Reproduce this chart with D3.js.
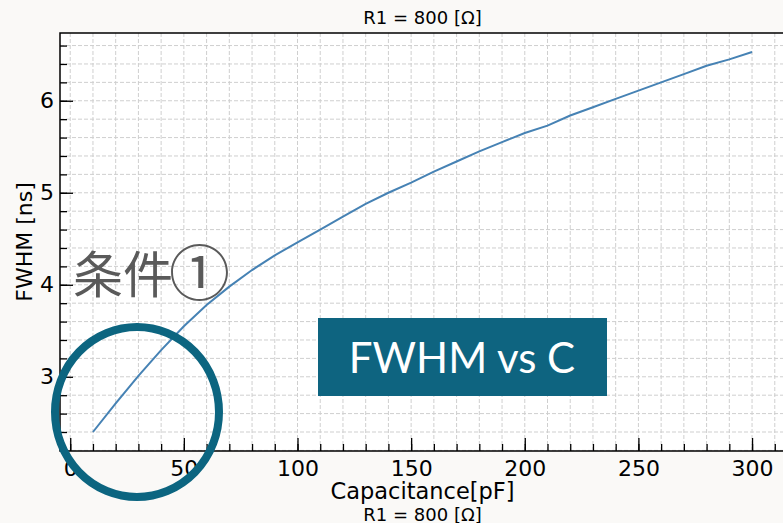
<!DOCTYPE html>
<html>
<head>
<meta charset="utf-8">
<script src="https://cdn.jsdelivr.net/npm/d3@7"></script>
<style>
  html, body { margin: 0; padding: 0; background: #faf9f7; }
  svg { display: block; }
</style>
</head>
<body>
<svg id="chart" width="783" height="523"></svg>
<script>
// Capacitance sweep [pF] and measured pulse width FWHM [ns], R1 = 800 Ω
const capacitance = [10, 20, 30, 40, 50, 60, 70, 80, 90, 100,
                     110, 120, 130, 140, 150, 160, 170, 180, 190, 200,
                     210, 220, 230, 240, 250, 260, 270, 280, 290, 300];
const fwhm = [2.40, 2.71, 3.01, 3.29, 3.55, 3.78, 3.98, 4.16, 4.32, 4.46,
              4.60, 4.74, 4.88, 5.00, 5.11, 5.23, 5.34, 5.45, 5.55, 5.65,
              5.73, 5.84, 5.93, 6.02, 6.11, 6.20, 6.29, 6.38, 6.45, 6.53];
const xMajorTicks = [0, 50, 100, 150, 200, 250, 300];
const yMajorTicks = [3, 4, 5, 6];
const titleText = "R1 = 800 [Ω]";
const xLabel = "Capacitance[pF]";
const yLabel = "FWHM [ns]";
const noteWords = "条件";
const noteMark = "①";
const boxText = "FWHM vs C";

const svg = d3.select("#chart");
const plotL = 60, plotR = 785, plotT = 33, plotB = 451;

// matplotlib-style 5% margins around the data
const xPad = (d3.max(capacitance) - d3.min(capacitance)) * 0.05;
const yPad = (d3.max(fwhm) - d3.min(fwhm)) * 0.05;
const x = d3.scaleLinear()
  .domain([d3.min(capacitance) - xPad, d3.max(capacitance) + xPad])
  .range([plotL, plotR]);
const y = d3.scaleLinear()
  .domain([d3.min(fwhm) - yPad, d3.max(fwhm) + yPad])
  .range([plotB, plotT]);

const xMinor = d3.range(0, 311, 10);
const yMinor = d3.range(2.2, 6.61, 0.2).map(v => +v.toFixed(1));

// plot background
svg.append("rect")
  .attr("x", plotL).attr("y", plotT)
  .attr("width", plotR - plotL).attr("height", plotB - plotT)
  .attr("fill", "#ffffff");

// dashed grid on every minor tick
const grid = svg.append("g").attr("stroke", "#cfcfcf").attr("stroke-width", 1)
  .attr("stroke-dasharray", "4,2");
grid.selectAll(".gx").data(xMinor).join("line")
  .attr("x1", d => x(d)).attr("x2", d => x(d))
  .attr("y1", plotT).attr("y2", plotB);
grid.selectAll(".gy").data(yMinor).join("line")
  .attr("x1", plotL).attr("x2", plotR)
  .attr("y1", d => y(d)).attr("y2", d => y(d));

// data line
svg.append("path")
  .datum(capacitance.map((c, i) => [c, fwhm[i]]))
  .attr("fill", "none")
  .attr("stroke", "#4682b4")
  .attr("stroke-width", 2)
  .attr("d", d3.line().x(d => x(d[0])).y(d => y(d[1])));

// axes with inward ticks
const tickFont = "DejaVu Sans, sans-serif";
const xAxisMinor = d3.axisBottom(x).tickValues(xMinor).tickSize(-7).tickFormat("");
const xAxisMajor = d3.axisBottom(x).tickValues(xMajorTicks).tickSize(-13).tickPadding(9)
  .tickFormat(d3.format("d"));
const yAxisMinor = d3.axisLeft(y).tickValues(yMinor).tickSize(-7).tickFormat("");
const yAxisMajor = d3.axisLeft(y).tickValues(yMajorTicks).tickSize(-13).tickPadding(6)
  .tickFormat(d3.format("d"));

function styleAxis(g) {
  g.select(".domain").remove();
  g.selectAll("line").attr("stroke", "#000").attr("stroke-width", 1.3);
  g.selectAll("text").attr("fill", "#000").style("font-family", tickFont).style("font-size", "22px");
}
svg.append("g").attr("transform", `translate(0,${plotB})`).call(xAxisMinor).call(styleAxis);
svg.append("g").attr("transform", `translate(0,${plotB})`).call(xAxisMajor).call(styleAxis);
svg.append("g").attr("transform", `translate(${plotL},0)`).call(yAxisMinor).call(styleAxis);
svg.append("g").attr("transform", `translate(${plotL},0)`).call(yAxisMajor).call(styleAxis);

// spines: left, top, bottom
svg.append("path")
  .attr("d", `M${plotR},${plotT}H${plotL}V${plotB}H${plotR}`)
  .attr("fill", "none").attr("stroke", "#000").attr("stroke-width", 1.5);

// titles and axis labels
const cx = (plotL + plotR) / 2;
svg.append("text").attr("x", cx).attr("y", 24).attr("text-anchor", "middle")
  .style("font-family", tickFont).style("font-size", "18px").text(titleText);
svg.append("text").attr("x", cx).attr("y", 499).attr("text-anchor", "middle")
  .style("font-family", tickFont).style("font-size", "22.5px").text(xLabel);
svg.append("text").attr("x", cx).attr("y", 521).attr("text-anchor", "middle")
  .style("font-family", tickFont).style("font-size", "18px").text(titleText);
svg.append("text")
  .attr("transform", `translate(32,${(plotT + plotB) / 2}) rotate(-90)`)
  .attr("text-anchor", "middle")
  .style("font-family", tickFont).style("font-size", "22px").text(yLabel);

// annotation: condition label
const note = svg.append("text").attr("x", 73).attr("y", 293)
  .style("font-family", "Noto Sans CJK JP, sans-serif")
  .attr("fill", "#5a5a5a");
note.append("tspan").style("font-size", "50px").text(noteWords);
note.append("tspan").attr("dx", -4).attr("dy", 3).style("font-size", "61px").text(noteMark);

// annotation: ring around the low-capacitance region
svg.append("ellipse")
  .attr("cx", 137).attr("cy", 412).attr("rx", 82).attr("ry", 85)
  .attr("fill", "none").attr("stroke", "#0c6580").attr("stroke-width", 8);

// annotation: caption box
svg.append("rect").attr("x", 318).attr("y", 318).attr("width", 289).attr("height", 78)
  .attr("fill", "#0e6480");
svg.append("text").attr("x", 462).attr("y", 373).attr("text-anchor", "middle")
  .style("font-family", "Lato, sans-serif").style("font-size", "42px")
  .attr("fill", "#ffffff").text(boxText);
</script>
</body>
</html>
